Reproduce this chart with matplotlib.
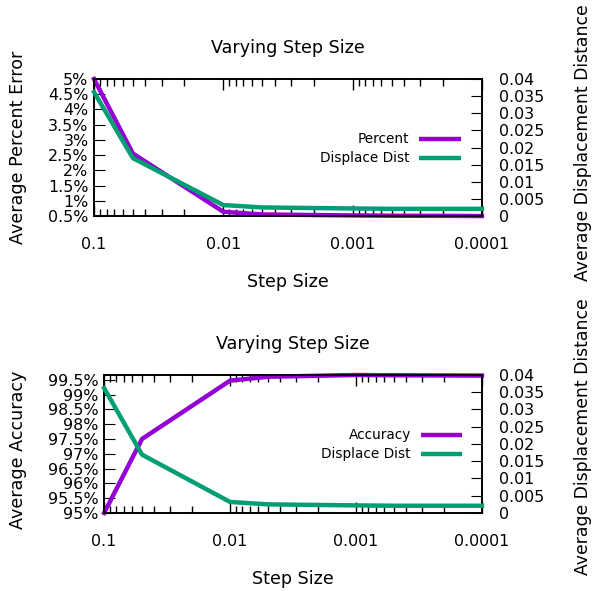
import numpy as np
import matplotlib
matplotlib.use('Agg')
import matplotlib.pyplot as plt
from matplotlib.ticker import FuncFormatter, LogLocator, MultipleLocator, NullFormatter

plt.rcParams['font.family'] = ['DejaVu Sans']
plt.rcParams['font.size'] = 11.4

# step sizes tried
step = [0.1, 0.05, 0.01, 0.005, 0.001, 0.0005, 0.0001]

# results
percent_err = [5.0, 2.55, 0.64, 0.55, 0.52, 0.51, 0.50]
accuracy = [95.0, 97.5, 99.47, 99.6, 99.66, 99.65, 99.64]
displace = [0.0362, 0.0169, 0.0032, 0.0025, 0.0022, 0.0021, 0.0021]

purple = '#9400d3'
green = '#009e73'

fig = plt.figure(figsize=(5.95, 5.91), dpi=100)


def setup(ax, ax2, ylab, yr, ystep, key, lx, rx, ry, ly):
    ax.set_xscale('log')
    ax.set_xlim(0.1, 0.0001)
    ax.set_xticks([0.1, 0.01, 0.001, 0.0001])
    ax.xaxis.set_major_formatter(FuncFormatter(lambda v, p: '%g' % v))
    ax.xaxis.set_minor_locator(LogLocator(base=10, subs=np.arange(2, 10)))
    ax.xaxis.set_minor_formatter(NullFormatter())
    ax.set_ylim(*yr)
    ax.yaxis.set_major_locator(MultipleLocator(ystep))
    ax.yaxis.set_major_formatter(FuncFormatter(lambda v, p: '%g%%' % round(v, 2)))
    ax.tick_params(axis='x', which='both', direction='in', top=True, pad=15)
    ax.tick_params(axis='x', which='major', length=8, width=1)
    ax.tick_params(axis='x', which='minor', length=5, width=1)
    ax.tick_params(axis='y', direction='in', length=8, right=False, pad=4)
    ax2.set_ylim(0, 0.04)
    ax2.yaxis.set_major_locator(MultipleLocator(0.005))
    ax2.yaxis.set_major_formatter(FuncFormatter(lambda v, p: '%g' % round(v, 4)))
    ax2.tick_params(axis='y', direction='in', length=8, pad=12)
    for a in (ax, ax2):
        for s in a.spines.values():
            s.set_linewidth(1.2)
    ax.set_title('Varying Step Size', fontsize=12.6, pad=19)
    ax.set_xlabel('Step Size', fontsize=12.6)
    ax.xaxis.set_label_coords(0.5, -0.48)
    ax.xaxis.label.set_va('center')
    ax.set_ylabel(ylab, fontsize=12.6)
    ax.yaxis.set_label_coords(lx, ly)
    ax.yaxis.label.set_va('center')
    ax2.set_ylabel('Average Displacement Distance', fontsize=12.4)
    ax2.yaxis.set_label_coords(rx, ry)
    ax2.yaxis.label.set_va('center')
    # key, right aligned text with sample line
    for i, (name, col) in enumerate(key):
        y = 0.562 - i * 0.136
        ax.text(0.812, y, name, transform=ax.transAxes, ha='right', va='center', fontsize=9.8)
        ax.plot([0.838, 0.947], [y, y], transform=ax.transAxes, color=col, lw=3.2,
                solid_capstyle='butt', clip_on=False)


# top panel: percent error
ax = fig.add_axes([0.158, 0.6345, 0.652, 0.2318])
ax2 = ax.twinx()
ax.plot(step, percent_err, color=purple, lw=3.2, clip_on=False, zorder=3)
ax2.plot(step, displace, color=green, lw=3.2, clip_on=False, zorder=3)
setup(ax, ax2, 'Average Percent Error', (0.5, 5.0), 0.5,
      [('Percent', purple), ('Displace Dist', green)], -0.196, 1.26, 0.533, 0.5)

# bottom panel: accuracy
bx = fig.add_axes([0.175, 0.132, 0.635, 0.2335])
bx2 = bx.twinx()
bx.plot(step, accuracy, color=purple, lw=3.2, clip_on=False, zorder=3)
bx2.plot(step, displace, color=green, lw=3.2, clip_on=False, zorder=3)
setup(bx, bx2, 'Average Accuracy', (95.0, 99.66), 0.5,
      [('Accuracy', purple), ('Displace Dist', green)], -0.2275, 1.267, 0.551, 0.46)

fig.savefig('out.png', dpi=100)
